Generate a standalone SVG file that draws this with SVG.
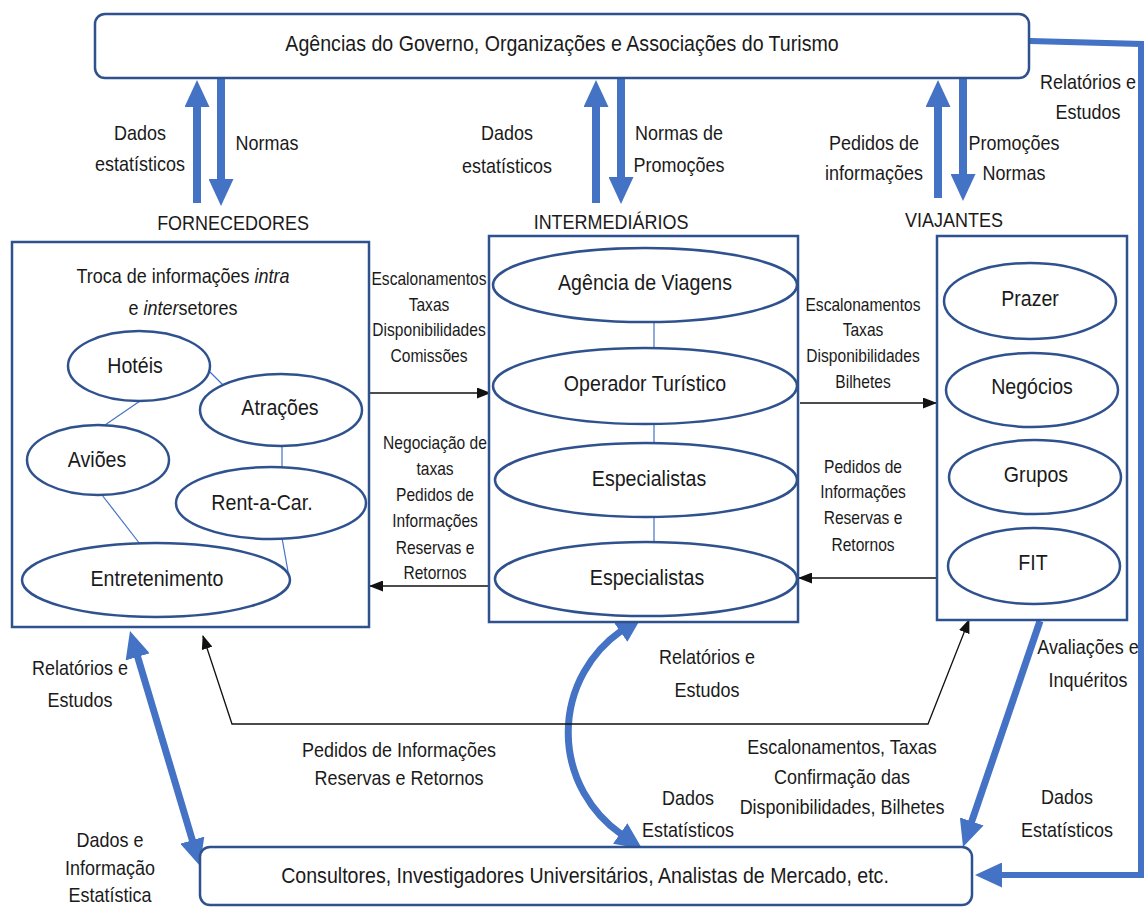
<svg xmlns="http://www.w3.org/2000/svg" width="1144" height="908" viewBox="0 0 1144 908">
<style>
.bg{fill:#ffffff}
.box{fill:#ffffff;stroke:#2F528F;stroke-width:2.5}
.ell{fill:#ffffff;stroke:#2F528F;stroke-width:2.5}
.lnk{stroke:#4472C4;stroke-width:1.2;fill:none}
.thk{stroke:#4472C4;fill:none}
.blk{stroke:#111111;stroke-width:1.3;fill:none}
.t{font-family:"Liberation Sans",Arial,sans-serif;fill:#1a1a1a;text-anchor:middle}
.L{font-size:22.8px}
.M{font-size:20.9px}
.S{font-size:18.1px}
</style>
<defs>
<marker id="bh" markerUnits="userSpaceOnUse" markerWidth="27" markerHeight="25" viewBox="0 0 27 25" refX="1" refY="12.5" orient="auto-start-reverse">
<path d="M0,0 L27,12.5 L0,25 z" fill="#4472C4"/>
</marker>
<marker id="kh" markerUnits="userSpaceOnUse" markerWidth="14" markerHeight="11" viewBox="0 0 14 11" refX="13" refY="5.5" orient="auto-start-reverse">
<path d="M0,0 L14,5.5 L0,11 z" fill="#111111"/>
</marker>
</defs>
<rect class="bg" x="0" y="0" width="1144" height="908"/>

<g id="connectors">
<path class="thk" stroke-width="6" d="M1030,41 L1141,44 L1141,875 L1001,875" marker-end="url(#bh)"/>
<line class="thk" stroke-width="8" x1="197" y1="203" x2="197" y2="106" marker-end="url(#bh)"/>
<line class="thk" stroke-width="8" x1="221" y1="78" x2="221" y2="180" marker-end="url(#bh)"/>
<line class="thk" stroke-width="8" x1="596" y1="203" x2="596" y2="106" marker-end="url(#bh)"/>
<line class="thk" stroke-width="8" x1="621" y1="78" x2="621" y2="178" marker-end="url(#bh)"/>
<line class="thk" stroke-width="8" x1="938" y1="198" x2="938" y2="106" marker-end="url(#bh)"/>
<line class="thk" stroke-width="8" x1="963" y1="78" x2="963" y2="175" marker-end="url(#bh)"/>
<line class="thk" stroke-width="7" x1="137.4" y1="655.9" x2="192.6" y2="841.1" marker-start="url(#bh)" marker-end="url(#bh)"/>
<path class="thk" stroke-width="7" d="M621,631 A124,124 0 0,0 621,834" marker-start="url(#bh)" marker-end="url(#bh)"/>
<line class="thk" stroke-width="7" x1="1040" y1="621" x2="971.4" y2="822.4" marker-end="url(#bh)"/>
<line class="blk" x1="370" y1="393" x2="490" y2="393" marker-end="url(#kh)"/>
<line class="blk" x1="490" y1="586" x2="370" y2="586" marker-end="url(#kh)"/>
<line class="blk" x1="800" y1="403" x2="936" y2="403" marker-end="url(#kh)"/>
<line class="blk" x1="936" y1="578" x2="799" y2="578" marker-end="url(#kh)"/>
<polyline class="blk" points="203,636 232,724 928,724 969,620" marker-start="url(#kh)" marker-end="url(#kh)"/>

<text class="t M" transform="translate(140,0) scale(0.86,1)"><tspan x="0" y="140">Dados</tspan><tspan x="0" y="171">estatísticos</tspan></text>
<text class="t M" transform="translate(267,0) scale(0.86,1)"><tspan x="0" y="150">Normas</tspan></text>
<text class="t M" transform="translate(507,0) scale(0.86,1)"><tspan x="0" y="140">Dados</tspan><tspan x="0" y="173">estatísticos</tspan></text>
<text class="t M" transform="translate(679,0) scale(0.86,1)"><tspan x="0" y="140">Normas de</tspan><tspan x="0" y="172">Promoções</tspan></text>
<text class="t M" transform="translate(874,0) scale(0.86,1)"><tspan x="0" y="150">Pedidos de</tspan><tspan x="0" y="180">informações</tspan></text>
<text class="t M" transform="translate(1014,0) scale(0.86,1)"><tspan x="0" y="150">Promoções</tspan><tspan x="0" y="180">Normas</tspan></text>
<text class="t M" transform="translate(1088,0) scale(0.86,1)"><tspan x="0" y="89">Relatórios e</tspan><tspan x="0" y="119">Estudos</tspan></text>

<text class="t S" transform="translate(429,0) scale(0.86,1)"><tspan x="0" y="285.5">Escalonamentos</tspan><tspan x="0" y="311.5">Taxas</tspan><tspan x="0" y="336.5">Disponibilidades</tspan><tspan x="0" y="362.5">Comissões</tspan></text>
<text class="t S" transform="translate(435,0) scale(0.86,1)"><tspan x="0" y="449.5">Negociação de</tspan><tspan x="0" y="475.5">taxas</tspan><tspan x="0" y="501.5">Pedidos de</tspan><tspan x="0" y="527.5">Informações</tspan><tspan x="0" y="554">Reservas e</tspan><tspan x="0" y="579.5">Retornos</tspan></text>
<text class="t S" transform="translate(863,0) scale(0.86,1)"><tspan x="0" y="311.5">Escalonamentos</tspan><tspan x="0" y="336.5">Taxas</tspan><tspan x="0" y="362.5">Disponibilidades</tspan><tspan x="0" y="388.5">Bilhetes</tspan></text>
<text class="t S" transform="translate(863,0) scale(0.86,1)"><tspan x="0" y="473.5">Pedidos de</tspan><tspan x="0" y="498.5">Informações</tspan><tspan x="0" y="524.5">Reservas e</tspan><tspan x="0" y="551.5">Retornos</tspan></text>

<text class="t M" transform="translate(80,0) scale(0.86,1)"><tspan x="0" y="675.5">Relatórios e</tspan><tspan x="0" y="707.5">Estudos</tspan></text>
<text class="t M" transform="translate(110,0) scale(0.86,1)"><tspan x="0" y="847">Dados e</tspan><tspan x="0" y="875">Informação</tspan><tspan x="0" y="902">Estatística</tspan></text>
<text class="t M" transform="translate(707,0) scale(0.86,1)"><tspan x="0" y="664.5">Relatórios e</tspan><tspan x="0" y="697.5">Estudos</tspan></text>
<text class="t M" transform="translate(399,0) scale(0.86,1)"><tspan x="0" y="757.5">Pedidos de Informações</tspan><tspan x="0" y="785.5">Reservas e Retornos</tspan></text>
<text class="t M" transform="translate(842,0) scale(0.86,1)"><tspan x="0" y="754.5">Escalonamentos, Taxas</tspan><tspan x="0" y="784.5">Confirmação das</tspan><tspan x="0" y="814.5">Disponibilidades, Bilhetes</tspan></text>
<text class="t M" transform="translate(688,0) scale(0.86,1)"><tspan x="0" y="805.5">Dados</tspan><tspan x="0" y="837.5">Estatísticos</tspan></text>
<text class="t M" transform="translate(1088,0) scale(0.86,1)"><tspan x="0" y="654.5">Avaliações e</tspan><tspan x="0" y="687.5">Inquéritos</tspan></text>
<text class="t M" transform="translate(1067,0) scale(0.86,1)"><tspan x="0" y="804.5">Dados</tspan><tspan x="0" y="837.5">Estatísticos</tspan></text>
</g>

<g id="top-box">
<rect class="box" x="95" y="14" width="934" height="64" rx="10"/>
<text class="t L" transform="translate(562,51) scale(0.86,1)">Agências do Governo, Organizações e Associações do Turismo</text>
</g>

<g id="fornecedores">
<text class="t M" transform="translate(233,230) scale(0.86,1)">FORNECEDORES</text>
<rect class="box" x="12" y="242" width="357" height="385"/>
<text class="t M" transform="translate(183,0) scale(0.86,1)"><tspan x="0" y="283">Troca de informações <tspan font-style="italic">intra</tspan></tspan><tspan x="0" y="315">e <tspan font-style="italic">inter</tspan>setores</tspan></text>
<g id="links-fornecedores">
<line class="lnk" x1="210" y1="372" x2="223" y2="385"/>
<line class="lnk" x1="140" y1="401" x2="105" y2="425"/>
<line class="lnk" x1="282" y1="446" x2="282" y2="467"/>
<line class="lnk" x1="102" y1="495" x2="140" y2="544"/>
<line class="lnk" x1="282" y1="538" x2="289" y2="577"/>
</g>
<g id="hoteis"><ellipse class="ell" cx="139" cy="366" rx="71" ry="35"/><text class="t L" transform="translate(135,373) scale(0.86,1)">Hotéis</text></g>
<g id="atracoes"><ellipse class="ell" cx="281" cy="410" rx="81" ry="36"/><text class="t L" transform="translate(280,415) scale(0.86,1)">Atrações</text></g>
<g id="avioes"><ellipse class="ell" cx="98" cy="460" rx="71" ry="35"/><text class="t L" transform="translate(97,467) scale(0.86,1)">Aviões</text></g>
<g id="rent-a-car"><ellipse class="ell" cx="271" cy="503" rx="95" ry="36"/><text class="t L" transform="translate(262,510) scale(0.86,1)">Rent-a-Car.</text></g>
<g id="entretenimento"><ellipse class="ell" cx="156" cy="580" rx="134" ry="37"/><text class="t L" transform="translate(157,586) scale(0.86,1)">Entretenimento</text></g>
</g>

<g id="intermediarios">
<text class="t M" transform="translate(611,229) scale(0.86,1)">INTERMEDIÁRIOS</text>
<rect class="box" x="489" y="236" width="309" height="386"/>
<g id="links-intermediarios">
<line class="lnk" x1="654" y1="322" x2="654" y2="348"/>
<line class="lnk" x1="654" y1="424" x2="654" y2="443"/>
<line class="lnk" x1="654" y1="517" x2="654" y2="542"/>
</g>
<g id="agencia-viagens"><ellipse class="ell" cx="645" cy="285" rx="152" ry="37"/><text class="t L" transform="translate(645,290) scale(0.86,1)">Agência de Viagens</text></g>
<g id="operador-turistico"><ellipse class="ell" cx="645" cy="386" rx="152" ry="38"/><text class="t L" transform="translate(645,391) scale(0.86,1)">Operador Turístico</text></g>
<g id="especialistas-1"><ellipse class="ell" cx="646" cy="480" rx="151" ry="37"/><text class="t L" transform="translate(649,486) scale(0.86,1)">Especialistas</text></g>
<g id="especialistas-2"><ellipse class="ell" cx="646" cy="579" rx="151" ry="37"/><text class="t L" transform="translate(647,585) scale(0.86,1)">Especialistas</text></g>
</g>

<g id="viajantes">
<text class="t M" transform="translate(954,227) scale(0.86,1)">VIAJANTES</text>
<rect class="box" x="937" y="236" width="190" height="384"/>
<g id="prazer"><ellipse class="ell" cx="1030" cy="301" rx="86" ry="38"/><text class="t L" transform="translate(1030,306) scale(0.86,1)">Prazer</text></g>
<g id="negocios"><ellipse class="ell" cx="1032" cy="390" rx="86" ry="37"/><text class="t L" transform="translate(1032,394) scale(0.86,1)">Negócios</text></g>
<g id="grupos"><ellipse class="ell" cx="1035" cy="477" rx="86" ry="37"/><text class="t L" transform="translate(1036,482) scale(0.86,1)">Grupos</text></g>
<g id="fit"><ellipse class="ell" cx="1034" cy="566" rx="86" ry="38"/><text class="t L" transform="translate(1033,570) scale(0.86,1)">FIT</text></g>
</g>

<g id="bottom-box">
<rect class="box" x="200" y="847" width="772" height="58" rx="10"/>
<text class="t L" transform="translate(585,883) scale(0.86,1)">Consultores, Investigadores Universitários, Analistas de Mercado, etc.</text>
</g>
</svg>
